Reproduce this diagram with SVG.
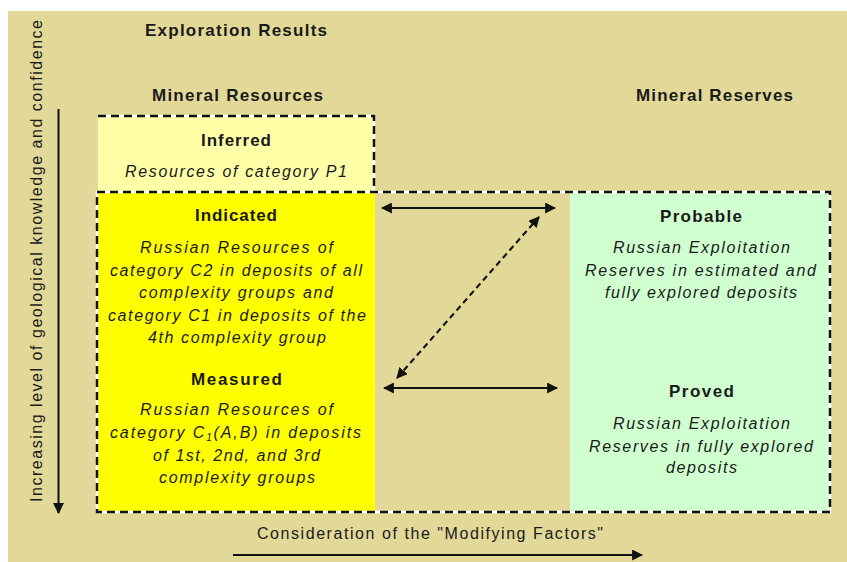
<svg xmlns="http://www.w3.org/2000/svg" width="847" height="562" viewBox="0 0 847 562">
<style>
text{font-family:"Liberation Sans",Arial,sans-serif;fill:#1a1a1a;text-anchor:middle}
.h{font-weight:bold;font-size:17px}
.i{font-style:italic;font-size:16px}
.r{font-size:16px}
.dw{stroke:#fff;stroke-width:2.5;fill:none}
.db{stroke:#111;stroke-width:2.5;fill:none;stroke-dasharray:8 5}
.ar{stroke:#111;stroke-width:2;fill:none}
</style>
<defs>
<marker id="ah" viewBox="0 0 10 10" refX="9" refY="5" markerWidth="5.5" markerHeight="5.5" orient="auto-start-reverse" markerUnits="strokeWidth">
<path d="M0,0 L10,5 L0,10 z" fill="#111"/>
</marker>
</defs>
<rect x="0" y="0" width="847" height="562" fill="#fff"/>
<rect x="8" y="11" width="839" height="551" fill="#E2D998"/>
<rect x="98" y="116" width="276" height="77" fill="#FFFFA8"/>
<rect x="98" y="193" width="277" height="318" fill="#FFFF00"/>
<rect x="570" y="193" width="260" height="318" fill="#D0FFD0"/>
<g id="frames">
<path class="dw" d="M98,116 H374 V192"/>
<path class="db" d="M98,116 H374 V192"/>
<rect class="dw" x="97" y="192" width="733" height="320"/>
<rect class="db" x="97" y="192" width="733" height="320"/>
</g>
<g id="headings">
<text class="h" x="236" y="36" textLength="182" lengthAdjust="spacing">Exploration Results</text>
<text class="h" x="237.5" y="101" textLength="171" lengthAdjust="spacing">Mineral Resources</text>
<text class="h" x="714.5" y="101" textLength="157" lengthAdjust="spacing">Mineral Reserves</text>
</g>
<g id="inferred">
<text class="h" x="236" y="146" textLength="70" lengthAdjust="spacing">Inferred</text>
<text class="i" x="236" y="177" textLength="222" lengthAdjust="spacing">Resources of category P1</text>
</g>
<g id="indicated">
<text class="h" x="236" y="221" textLength="82" lengthAdjust="spacing">Indicated</text>
<text class="i" x="236.5" y="253" textLength="193" lengthAdjust="spacing">Russian Resources of</text>
<text class="i" x="236" y="275.5" textLength="252" lengthAdjust="spacing">category C2 in deposits of all</text>
<text class="i" x="236" y="298" textLength="194" lengthAdjust="spacing">complexity groups and</text>
<text class="i" x="237" y="320.5" textLength="258" lengthAdjust="spacing">category C1 in deposits of the</text>
<text class="i" x="237" y="343" textLength="178" lengthAdjust="spacing">4th complexity group</text>
</g>
<g id="measured">
<text class="h" x="236.5" y="385" textLength="91" lengthAdjust="spacing">Measured</text>
<text class="i" x="236.5" y="415" textLength="193" lengthAdjust="spacing">Russian Resources of</text>
<text class="i" x="235.5" y="438" textLength="251" lengthAdjust="spacing">category  C<tspan dy="3" font-size="10">1</tspan><tspan dy="-3">(A,B) in deposits</tspan></text>
<text class="i" x="236.5" y="461" textLength="167" lengthAdjust="spacing">of 1st, 2nd, and 3rd</text>
<text class="i" x="237" y="483" textLength="156" lengthAdjust="spacing">complexity groups</text>
</g>
<g id="probable">
<text class="h" x="701" y="222" textLength="82" lengthAdjust="spacing">Probable</text>
<text class="i" x="701.5" y="253" textLength="177" lengthAdjust="spacing">Russian Exploitation</text>
<text class="i" x="700.5" y="275.5" textLength="231" lengthAdjust="spacing">Reserves in estimated and</text>
<text class="i" x="701" y="298" textLength="192" lengthAdjust="spacing">fully explored deposits</text>
</g>
<g id="proved">
<text class="h" x="701.5" y="397" textLength="65" lengthAdjust="spacing">Proved</text>
<text class="i" x="701.5" y="429" textLength="177" lengthAdjust="spacing">Russian Exploitation</text>
<text class="i" x="701" y="451.5" textLength="224" lengthAdjust="spacing">Reserves in fully explored</text>
<text class="i" x="701.5" y="473" textLength="71" lengthAdjust="spacing">deposits</text>
</g>
<g id="axes">
<text class="r" transform="translate(42,261) rotate(-90)" textLength="482" lengthAdjust="spacing">Increasing level of geological knowledge and confidence</text>
<text class="r" x="430" y="539" textLength="346" lengthAdjust="spacing">Consideration of the "Modifying Factors"</text>
</g>
<g id="connectors">
<line class="ar" x1="58.5" y1="109" x2="58.5" y2="513" marker-end="url(#ah)"/>
<line class="ar" x1="233" y1="555" x2="642" y2="555" marker-end="url(#ah)"/>
<line class="ar" x1="382" y1="208" x2="555" y2="208" marker-start="url(#ah)" marker-end="url(#ah)"/>
<line class="ar" x1="384" y1="388" x2="557" y2="388" marker-start="url(#ah)" marker-end="url(#ah)"/>
<line class="ar" x1="397" y1="378" x2="539" y2="217" stroke-dasharray="6 4" marker-start="url(#ah)" marker-end="url(#ah)"/>
</g>
</svg>
